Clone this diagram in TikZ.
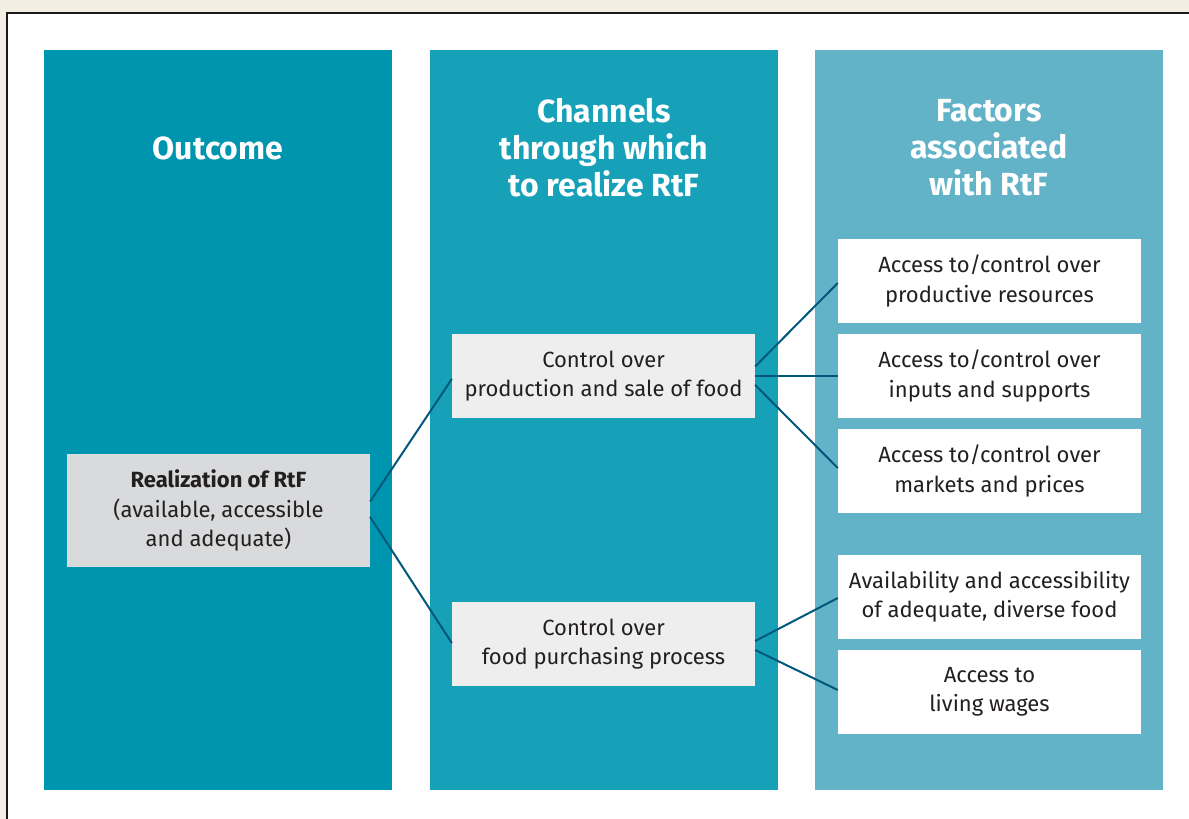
\documentclass[tikz,border=0pt]{standalone}
\usepackage{fontspec}
\setmainfont{Fira Sans}
\usetikzlibrary{calc}
\definecolor{beige}{HTML}{F2EEE3}
\definecolor{colA}{HTML}{0095AE}
\definecolor{colB}{HTML}{17A1B8}
\definecolor{colC}{HTML}{62B3C8}
\definecolor{linkc}{HTML}{00587C}
\definecolor{graybox}{HTML}{D9DADB}
\definecolor{lightbox}{HTML}{EEEEEE}
\definecolor{txt}{HTML}{231F20}
\tikzset{
  column/.style={inner sep=0pt, minimum width=348pt, minimum height=740pt},
  header/.style={text=white, font=\fontsize{32}{37}\selectfont\bfseries, align=center, inner sep=0pt},
  boxbase/.style={inner sep=0pt, minimum width=303pt, minimum height=84pt, align=center, text=txt, font=\fontsize{22}{29.5}\selectfont},
  outbox/.style={boxbase, fill=graybox, minimum height=113pt},
  chanbox/.style={boxbase, fill=lightbox},
  factbox/.style={boxbase, fill=white},
  link/.style={draw=linkc, line width=2pt}
}
\begin{document}
\begin{tikzpicture}[x=1pt,y=-1pt]
\useasboundingbox (0,0) rectangle (1189,819);
\fill[beige] (0,0) rectangle (1189,819);
\fill[white] (7,13) rectangle (1189,819);
\draw[line width=2pt, black!90] (7,819) -- (7,13) -- (1189,13);
% columns
\node[column, fill=colA] (c1) at (217.5,420) {};
\node[column, fill=colB] (c2) at (604,420) {};
\node[column, fill=colC] (c3) at (989,420) {};
% headers
\node[header] (h1) at (218,148) {Outcome};
\node[header] (h2) at (604,148) {Channels\\through which\\to realize RtF};
\node[header] (h3) at (989,148) {Factors\\associated\\with RtF};
% boxes
\node[outbox] (out) at (218.5,510.5) {\textbf{Realization of RtF}\\(available, accessible\\and adequate)};
\node[chanbox] (ch1) at (603.5,376) {Control over\\production and sale of food};
\node[chanbox] (ch2) at (603.5,644) {Control over\\food purchasing process};
\node[factbox] (f1) at (989.5,281) {Access to/control over\\productive resources};
\node[factbox] (f2) at (989.5,376) {Access to/control over\\inputs and supports};
\node[factbox] (f3) at (989.5,471) {Access to/control over\\markets and prices};
\node[factbox] (f4) at (989.5,597) {Availability and accessibility\\of adequate, diverse food};
\node[factbox] (f5) at (989.5,692) {Access to\\living wages};
% connectors
\draw[link] ($(out.east)+(0,-9)$) -- ($(ch1.west)+(0,3)$);
\draw[link] ($(out.east)+(0,6.5)$) -- ($(ch2.west)+(0,-1)$);
\draw[link] ($(ch1.east)+(0,-9.5)$) -- ($(f1.west)+(0,2)$);
\draw[link] (ch1.east) -- (f2.west);
\draw[link] ($(ch1.east)+(0,9)$) -- ($(f3.west)+(0,-3)$);
\draw[link] ($(ch2.east)+(0,-3)$) -- ($(f4.west)+(0,1)$);
\draw[link] ($(ch2.east)+(0,6)$) -- ($(f5.west)+(0,-2)$);
\end{tikzpicture}
\end{document}
